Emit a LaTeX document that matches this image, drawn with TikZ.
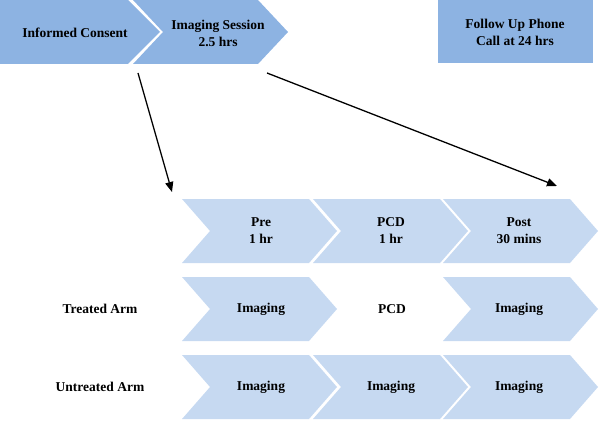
\documentclass[tikz,border=0pt]{standalone}
\usepackage{fontspec}
\setmainfont{Liberation Serif}
\usetikzlibrary{arrows.meta}
\definecolor{darkblue}{HTML}{8DB3E2}
\definecolor{lightblue}{HTML}{C6D9F1}
\newcommand\chevshape[3]{\fill[#3] (#1,#2) -- ++(127,0) -- ++(28,32) -- ++(-28,32) -- ++(-127,0) -- ++(28,-32) -- cycle;}
\begin{document}
\begin{tikzpicture}[x=1pt,y=-1pt,
  lbl/.style={font=\fontsize{13.5}{17}\selectfont\bfseries, align=center, inner sep=0pt},
  conn/.style={-{Triangle[length=10pt,width=8pt]}, line width=1.3pt}]
\useasboundingbox (0,0) rectangle (600,425);
% top row
\fill[darkblue] (0,0) -- (128,0) -- (160,32) -- (128,64) -- (0,64) -- cycle;
\fill[darkblue] (133,0) -- (258,0) -- (288,32) -- (258,64) -- (133,64) -- (163,32) -- cycle;
\fill[darkblue] (438,0) rectangle (593,63);
\node[lbl] (consent) at (75,33) {Informed Consent};
\node[lbl] (session) at (218,33) {Imaging Session\\2.5 hrs};
\node[lbl] (followup) at (515,32) {Follow Up Phone\\Call at 24 hrs};
% middle row
\chevshape{182}{199}{lightblue}
\chevshape{313}{199}{lightblue}
\chevshape{443}{199}{lightblue}
\node[lbl] (pre) at (261,231) {Pre\\1 hr};
\node[lbl] (pcdtime) at (391,231) {PCD\\1 hr};
\node[lbl] (post) at (519,231) {Post\\30 mins};
% treated arm
\chevshape{182}{277}{lightblue}
\chevshape{443}{277}{lightblue}
\node[lbl] (treated) at (100,309) {Treated Arm};
\node[lbl] (timg1) at (261,309) {Imaging};
\node[lbl] (tpcd) at (392,309) {PCD};
\node[lbl] (timg2) at (519,309) {Imaging};
% untreated arm
\chevshape{182}{355}{lightblue}
\chevshape{313}{355}{lightblue}
\chevshape{443}{355}{lightblue}
\node[lbl] (untreated) at (100,387) {Untreated Arm};
\node[lbl] (uimg1) at (261,387) {Imaging};
\node[lbl] (uimg2) at (391,387) {Imaging};
\node[lbl] (uimg3) at (519,387) {Imaging};
% arrows
\coordinate (a1s) at (138,73);
\coordinate (a1e) at (172,192);
\coordinate (a2s) at (267,73);
\coordinate (a2e) at (557,186);
\draw[conn] (a1s) -- (a1e);
\draw[conn] (a2s) -- (a2e);
\end{tikzpicture}
\end{document}
